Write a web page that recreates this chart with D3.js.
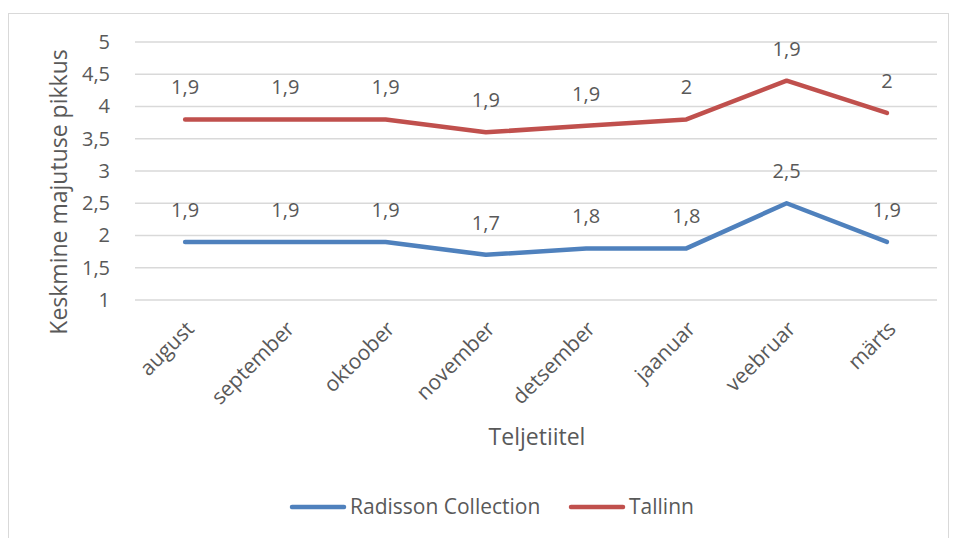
<!DOCTYPE html>
<html>
<head>
<meta charset="utf-8">
<script src="https://cdn.jsdelivr.net/npm/d3@7"></script>
<style>
  body { margin: 0; background: #fff; }
  text { font-family: "Open Sans", sans-serif; fill: #595959; }
</style>
</head>
<body>
<div id="chart"></div>
<script>
// Andmed
const months = ["august", "september", "oktoober", "november", "detsember", "jaanuar", "veebruar", "märts"];
const radisson = [1.9, 1.9, 1.9, 1.7, 1.8, 1.8, 2.5, 1.9];
const tallinn = [1.9, 1.9, 1.9, 1.9, 1.9, 2.0, 1.9, 2.0];
const yTicks = [1, 1.5, 2, 2.5, 3, 3.5, 4, 4.5, 5];
const seriesNames = ["Radisson Collection", "Tallinn"];
const colors = ["#4F81BD", "#C0504D"];

const [width, height] = [956, 538];
const margin = { left: 135, right: 19, top: 42, bottom: 238 };
const fmt = v => String(v).replace(".", ",");

const svg = d3.select("#chart").append("svg")
  .attr("width", width)
  .attr("height", height);

svg.append("rect")
  .attr("x", 8.5).attr("y", 13.5)
  .attr("width", 940).attr("height", 540)
  .attr("fill", "none")
  .attr("stroke", "#d9d9d9");

const x = d3.scaleBand().domain(months).range([margin.left, width - margin.right]);
const y = d3.scaleLinear().domain([1, 5]).range([height - margin.bottom, margin.top]);
const cx = m => x(m) + x.bandwidth() / 2;

// ruudustik
svg.append("g").selectAll("line")
  .data(yTicks)
  .enter().append("line")
  .attr("x1", margin.left).attr("x2", width - margin.right)
  .attr("y1", d => y(d)).attr("y2", d => y(d))
  .attr("stroke", "#d9d9d9").attr("stroke-width", 1.3);

const yAxis = svg.append("g")
  .attr("transform", "translate(113,0)")
  .call(d3.axisLeft(y).tickValues(yTicks).tickFormat(fmt).tickSize(0));
yAxis.select(".domain").remove();
yAxis.selectAll("text").style("font-size", "20px").attr("fill", "#595959");

const xAxis = svg.append("g")
  .attr("transform", "translate(0," + (height - margin.bottom) + ")")
  .call(d3.axisBottom(x).tickSize(0));
xAxis.select(".domain").remove();
xAxis.selectAll("text")
  .style("font-size", "21px")
  .attr("fill", "#595959")
  .attr("text-anchor", "end")
  .attr("y", 0)
  .attr("dy", "0.35em")
  .attr("transform", "translate(5,25) rotate(-45)");

// virnastatud väärtused
const stacked = [radisson, radisson.map((v, i) => v + tallinn[i])];
const labels = [radisson, tallinn];

const line = d3.line()
  .x((d, i) => cx(months[i]))
  .y(d => y(d));

stacked.forEach((s, k) => {
  svg.append("path")
    .datum(s)
    .attr("d", line)
    .attr("fill", "none")
    .attr("stroke", colors[k])
    .attr("stroke-width", 4.5)
    .attr("stroke-linejoin", "round")
    .attr("stroke-linecap", "round");

  svg.append("g").selectAll("text")
    .data(s)
    .enter().append("text")
    .attr("x", (d, i) => cx(months[i]))
    .attr("y", d => y(d) - 25)
    .attr("text-anchor", "middle")
    .style("font-size", "20px")
    .text((d, i) => fmt(labels[k][i]));
});

svg.append("text")
  .attr("transform", "translate(67,192) rotate(-90)")
  .attr("text-anchor", "middle")
  .style("font-size", "23px")
  .text("Keskmine majutuse pikkus");

svg.append("text")
  .attr("x", 537)
  .attr("y", 445)
  .attr("text-anchor", "middle")
  .style("font-size", "23px")
  .text("Teljetiitel");

// legend
const legendX = [292, 571];
seriesNames.forEach((n, k) => {
  svg.append("line")
    .attr("x1", legendX[k]).attr("x2", legendX[k] + 52)
    .attr("y1", 507).attr("y2", 507)
    .attr("stroke", colors[k]).attr("stroke-width", 4.5)
    .attr("stroke-linecap", "round");
  svg.append("text")
    .attr("x", legendX[k] + 58)
    .attr("y", 514)
    .style("font-size", "21px")
    .text(n);
});
</script>
</body>
</html>
